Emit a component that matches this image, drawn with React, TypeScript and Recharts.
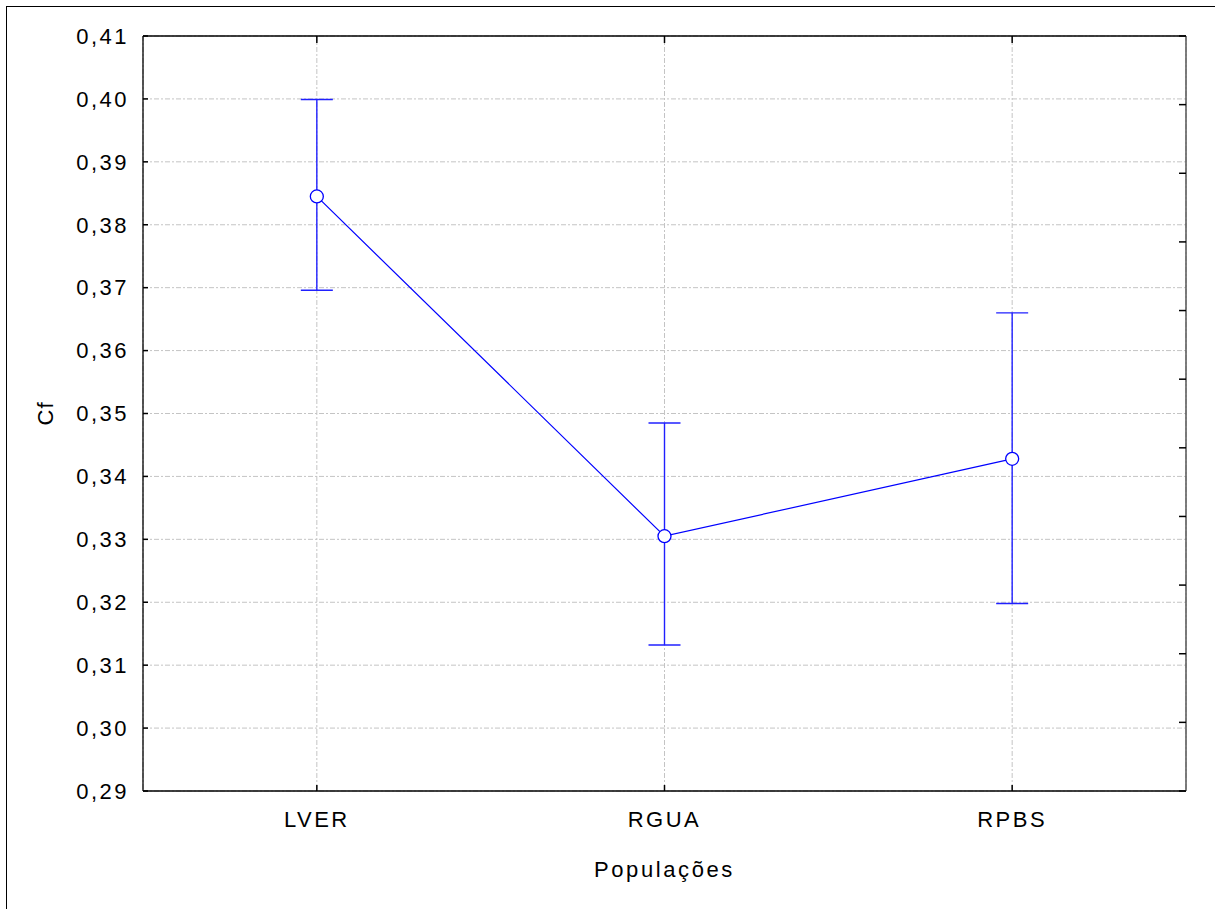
import React from "react";
import {
  CartesianGrid,
  ComposedChart,
  ErrorBar,
  Line,
  XAxis,
  YAxis,
} from "recharts";

const populations = ["LVER", "RGUA", "RPBS"];
const meanCf = [0.3845, 0.3305, 0.3428];
const lowerCf = [0.3696, 0.3132, 0.3198];
const upperCf = [0.3999, 0.3485, 0.366];
const yTicks = [0.29, 0.3, 0.31, 0.32, 0.33, 0.34, 0.35, 0.36, 0.37, 0.38, 0.39, 0.4, 0.41];
const rightTicks = [0, 1, 2, 3, 4, 5, 6, 7, 8, 9, 10, 11];

const data = populations.map((name, i) => ({
  name,
  cf: meanCf[i],
  err: [meanCf[i] - lowerCf[i], upperCf[i] - meanCf[i]],
}));

const font = '"Liberation Sans", Arial, sans-serif';
const tickStyle = { fontFamily: font, fontSize: 22, fill: "#000", letterSpacing: 2.5 };

const fmt = (v: number) => v.toFixed(2).replace(".", ",");

// draws nothing, so only the tick lines show
const NoLabel = () => <g />;

const CfLabel = (props: any) => {
  const { x, y, height } = props.viewBox;
  const cx = x + 30;
  const cy = y + height / 2;
  return (
    <text
      x={cx}
      y={cy}
      transform={`rotate(-90, ${cx}, ${cy})`}
      textAnchor="middle"
      style={{ fontFamily: font, fontSize: 22, fill: "#000", letterSpacing: 1 }}
    >
      Cf
    </text>
  );
};

const App: React.FC = () => {
  return (
    <div style={{ position: "relative", width: 1215, height: 909 }}>
      <style>{`body{margin:0}`}</style>
      <div
        style={{
          position: "absolute",
          left: 6,
          top: 6,
          width: 1300,
          height: 1000,
          borderLeft: "1.5px solid #000",
          borderTop: "1.5px solid #000",
          boxSizing: "border-box",
        }}
      />
      <ComposedChart
        width={1215}
        height={909}
        data={data}
        margin={{ top: 36, right: 29, bottom: 28, left: 23 }}
        style={{ position: "absolute", left: 0, top: 0 }}
      >
        <CartesianGrid stroke="#c4c4c4" strokeDasharray="5 2 2 2" />
        <XAxis
          dataKey="name"
          scale="band"
          height={90}
          axisLine={{ stroke: "#000", strokeWidth: 1.3 }}
          tickLine={{ stroke: "#000", strokeWidth: 1.5 }}
          tickSize={-6}
          tickMargin={26}
          tick={tickStyle}
          label={{
            value: "Populações",
            position: "insideBottom",
            offset: 4,
            style: { fontFamily: font, fontSize: 22, fill: "#000", letterSpacing: 2.6 },
          }}
        />
        <XAxis
          xAxisId="top"
          dataKey="name"
          scale="band"
          orientation="top"
          height={1}
          mirror
          axisLine={{ stroke: "#000", strokeWidth: 1.3 }}
          tickLine={{ stroke: "#000", strokeWidth: 1.5 }}
          tickSize={7}
          tick={NoLabel}
        />
        <YAxis
          type="number"
          domain={[0.29, 0.41]}
          ticks={yTicks}
          interval={0}
          width={120}
          axisLine={{ stroke: "#000", strokeWidth: 1.3 }}
          tickLine={{ stroke: "#000", strokeWidth: 1.5 }}
          tickSize={-5}
          tickMargin={19}
          tickFormatter={fmt}
          tick={tickStyle}
          label={{ content: CfLabel }}
        />
        <YAxis
          yAxisId="right"
          orientation="right"
          type="number"
          domain={[0, 11]}
          allowDataOverflow
          ticks={rightTicks}
          interval={0}
          width={1}
          mirror
          axisLine={{ stroke: "#555", strokeWidth: 1.5 }}
          tickLine={{ stroke: "#000", strokeWidth: 1.5 }}
          tickSize={7}
          tick={NoLabel}
        />
        <Line
          dataKey="cf"
          type="linear"
          stroke="#0000ff"
          strokeWidth={1.2}
          dot={{ r: 6.5, fill: "#fff", stroke: "#0000ff", strokeWidth: 1.3 }}
          activeDot={false}
          isAnimationActive={false}
        >
          <ErrorBar
            dataKey="err"
            direction="y"
            width={16}
            stroke="#2020ff"
            strokeWidth={1.4}
          />
        </Line>
      </ComposedChart>
    </div>
  );
};

export default App;
